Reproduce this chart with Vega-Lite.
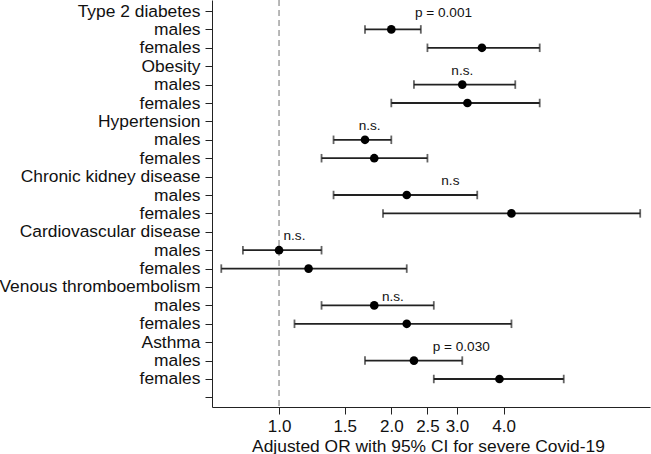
{
  "$schema": "https://vega.github.io/schema/vega-lite/v6.json",
  "width": 438,
  "height": 407,
  "autosize": {"type": "none"},
  "padding": {"left": 212, "top": 0, "right": 1, "bottom": 47},
  "background": "white",
  "config": {
    "view": {"stroke": null},
    "font": "Liberation Sans",
    "axis": {"grid": false, "domainColor": "#222", "tickColor": "#222", "labelColor": "#111", "titleColor": "#111", "labelFont": "Liberation Sans", "titleFont": "Liberation Sans", "labelFontSize": 17.4, "titleFontSize": 17.4, "titleFontWeight": "normal", "tickSize": 7, "domainWidth": 1, "tickWidth": 1}
  },
  "datasets": {
    "est": [
      {"row": "Type 2 diabetes|males", "or": 2.0, "lo": 1.7, "hi": 2.4},
      {"row": "Type 2 diabetes|females", "or": 3.5, "lo": 2.5, "hi": 5.0},
      {"row": "Obesity|males", "or": 3.1, "lo": 2.3, "hi": 4.3},
      {"row": "Obesity|females", "or": 3.2, "lo": 2.0, "hi": 5.0},
      {"row": "Hypertension|males", "or": 1.7, "lo": 1.4, "hi": 2.0},
      {"row": "Hypertension|females", "or": 1.8, "lo": 1.3, "hi": 2.5},
      {"row": "Chronic kidney disease|males", "or": 2.2, "lo": 1.4, "hi": 3.4},
      {"row": "Chronic kidney disease|females", "or": 4.2, "lo": 1.9, "hi": 9.3},
      {"row": "Cardiovascular disease|males", "or": 1.0, "lo": 0.8, "hi": 1.3},
      {"row": "Cardiovascular disease|females", "or": 1.2, "lo": 0.7, "hi": 2.2},
      {"row": "Venous thromboembolism|males", "or": 1.8, "lo": 1.3, "hi": 2.6},
      {"row": "Venous thromboembolism|females", "or": 2.2, "lo": 1.1, "hi": 4.2},
      {"row": "Asthma|males", "or": 2.3, "lo": 1.7, "hi": 3.1},
      {"row": "Asthma|females", "or": 3.9, "lo": 2.6, "hi": 5.8}
    ],
    "ann": [
      {"row": "Type 2 diabetes|males", "pos": 2.76, "label": "p = 0.001"},
      {"row": "Obesity|males", "pos": 3.10, "label": "n.s."},
      {"row": "Hypertension|males", "pos": 1.75, "label": "n.s."},
      {"row": "Chronic kidney disease|males", "pos": 2.88, "label": "n.s"},
      {"row": "Cardiovascular disease|males", "pos": 1.10, "label": "n.s."},
      {"row": "Venous thromboembolism|males", "pos": 2.02, "label": "n.s."},
      {"row": "Asthma|males", "pos": 3.08, "label": "p = 0.030"}
    ]
  },
  "layer": [
    {
      "data": {"values": [{"ref": 1}]},
      "mark": {"type": "rule", "color": "#b0b0b0", "strokeWidth": 1.8, "strokeDash": [6, 4]},
      "encoding": {"x": {"field": "ref", "type": "quantitative"}}
    },
    {
      "data": {"name": "est"},
      "mark": {"type": "rule", "color": "#222", "strokeWidth": 1.8},
      "encoding": {
        "y": {
          "field": "row", "type": "ordinal",
          "scale": {
            "type": "point", "padding": 0.56, "align": 0.534,
            "domain": ["Type 2 diabetes", "Type 2 diabetes|males", "Type 2 diabetes|females", "Obesity", "Obesity|males", "Obesity|females", "Hypertension", "Hypertension|males", "Hypertension|females", "Chronic kidney disease", "Chronic kidney disease|males", "Chronic kidney disease|females", "Cardiovascular disease", "Cardiovascular disease|males", "Cardiovascular disease|females", "Venous thromboembolism", "Venous thromboembolism|males", "Venous thromboembolism|females", "Asthma", "Asthma|males", "Asthma|females", "~"]
          },
          "axis": {
            "title": null, "labelPadding": 5, "labelLimit": 300,
            "labelExpr": "datum.value == '~' ? '' : (indexof(datum.value, '|') >= 0 ? split(datum.value, '|')[1] : datum.value)"
          }
        },
        "x": {
          "field": "lo", "type": "quantitative",
          "scale": {"type": "log", "domain": [0.661, 9.88], "nice": false, "zero": false},
          "axis": {
            "title": "Adjusted OR with 95% CI for severe Covid-19",
            "values": [1, 1.5, 2, 2.5, 3, 4], "format": ".1f",
            "labelFontSize": 17,
            "labelPadding": 4, "labelFlush": false, "labelOverlap": false,
            "titleY": 44, "titleBaseline": "alphabetic", "titleX": 216, "titleAlign": "center"
          }
        },
        "x2": {"field": "hi"}
      }
    },
    {
      "data": {"name": "est"},
      "mark": {"type": "tick", "color": "#222", "thickness": 1.8, "size": 8.5, "orient": "vertical"},
      "encoding": {
        "y": {"field": "row", "type": "ordinal"},
        "x": {"field": "lo", "type": "quantitative"}
      }
    },
    {
      "data": {"name": "est"},
      "mark": {"type": "tick", "color": "#222", "thickness": 1.8, "size": 8.5, "orient": "vertical"},
      "encoding": {
        "y": {"field": "row", "type": "ordinal"},
        "x": {"field": "hi", "type": "quantitative"}
      }
    },
    {
      "data": {"name": "est"},
      "mark": {"type": "circle", "color": "#000", "opacity": 1, "size": 75},
      "encoding": {
        "y": {"field": "row", "type": "ordinal"},
        "x": {"field": "or", "type": "quantitative"}
      }
    },
    {
      "data": {"name": "ann"},
      "transform": [{"filter": "datum.row != 'Type 2 diabetes|males' && datum.row != 'Venous thromboembolism|males'"}],
      "mark": {"type": "text", "color": "#111", "fontSize": 13.6, "align": "center", "baseline": "alphabetic", "dy": -10},
      "encoding": {
        "y": {"field": "row", "type": "ordinal"},
        "x": {"field": "pos", "type": "quantitative"},
        "text": {"field": "label"}
      }
    },
    {
      "data": {"name": "ann"},
      "transform": [{"filter": "datum.row == 'Type 2 diabetes|males'"}],
      "mark": {"type": "text", "color": "#111", "fontSize": 13.6, "align": "center", "baseline": "alphabetic", "dy": -12.7},
      "encoding": {
        "y": {"field": "row", "type": "ordinal"},
        "x": {"field": "pos", "type": "quantitative"},
        "text": {"field": "label"}
      }
    },
    {
      "data": {"name": "ann"},
      "transform": [{"filter": "datum.row == 'Venous thromboembolism|males'"}],
      "mark": {"type": "text", "color": "#111", "fontSize": 13.6, "align": "center", "baseline": "alphabetic", "dy": -4.7},
      "encoding": {
        "y": {"field": "row", "type": "ordinal"},
        "x": {"field": "pos", "type": "quantitative"},
        "text": {"field": "label"}
      }
    }
  ]
}
